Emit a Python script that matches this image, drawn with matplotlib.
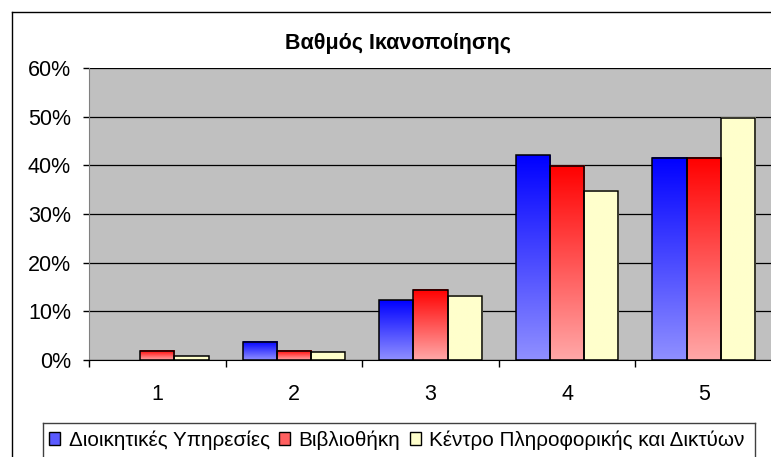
import matplotlib.pyplot as plt
import numpy as np
from matplotlib.colors import LinearSegmentedColormap
from matplotlib.lines import Line2D
from matplotlib.patches import Patch

plt.rcParams['font.family'] = ['Liberation Sans', 'DejaVu Sans']

# data
categories = ["1", "2", "3", "4", "5"]
series_names = ["Διοικητικές Υπηρεσίες", "Βιβλιοθήκη", "Κέντρο Πληροφορικής και Δικτύων"]
admin = [0.0, 3.8, 12.3, 42.1, 41.6]
library = [1.9, 1.9, 14.4, 39.9, 41.6]
computing = [0.8, 1.6, 13.2, 34.8, 49.8]
y_ticks = [0, 10, 20, 30, 40, 50, 60]
y_tick_labels = ["0%", "10%", "20%", "30%", "40%", "50%", "60%"]

# gradient colours (bottom -> top) per series
grads = [("#9090FF", "#0000FF"), ("#FFA8A8", "#FF0000"), ("#FFFFCC", "#FFFFCC")]
legend_colors = ["#5A5AFF", "#FF6060", "#FFFFCC"]

W, H = 771, 457
fig = plt.figure(figsize=(W / 100, H / 100), dpi=100)
ax = fig.add_axes([89 / W, 1 - 360 / H, 683 / W, 292 / H])
ax.set_facecolor("#C0C0C0")

x = np.arange(len(categories))
bw = 0.25
grad = np.linspace(0, 1, 256).reshape(-1, 1)
for k, vals in enumerate([admin, library, computing]):
    bars = ax.bar(x + (k - 1) * bw, vals, bw, facecolor="none",
                  edgecolor="black", linewidth=1.1, zorder=3)
    cmap = LinearSegmentedColormap.from_list("g%d" % k, grads[k])
    for b in bars:
        h = b.get_height()
        if h <= 0:
            b.set_visible(False)
            continue
        x0 = b.get_x()
        ax.imshow(grad, extent=(x0, x0 + bw, 0, h), origin="lower",
                  cmap=cmap, aspect="auto", zorder=2, interpolation="bilinear")

ax.set_xlim(-0.5, len(categories) - 0.5)
ax.set_ylim(0, 60)
ax.set_yticks(y_ticks)
ax.set_yticklabels(y_tick_labels, fontsize=15.5)
ax.set_xticks(x)
ax.set_xticklabels(categories, fontsize=15.5)
ax.set_xticks(np.arange(len(categories) + 1) - 0.5, minor=True)
ax.tick_params(axis="x", which="major", length=0, pad=17)
ax.tick_params(axis="x", which="minor", length=5, width=1, color="black")
ax.tick_params(axis="y", length=4.5, width=1, color="black", pad=8.5)
ax.yaxis.grid(True, color="black", linewidth=0.9, zorder=1)
ax.set_axisbelow(True)
for s in ["top", "right"]:
    ax.spines[s].set_visible(False)
ax.spines["left"].set_color("#808080")
ax.spines["bottom"].set_color("black")
ax.spines["bottom"].set_zorder(4)

fig.text(398 / W, 1 - 44 / H, "Βαθμός Ικανοποίησης", ha="center", va="center",
         fontsize=15.5, fontweight="bold")

# chart frame (extends past the image edges)
fig.add_artist(Line2D([11.5 / W, 11.5 / W], [0, 1 - 12 / H], color="black", linewidth=1))
fig.add_artist(Line2D([11.5 / W, 1], [1 - 12 / H, 1 - 12 / H], color="black", linewidth=1))

# legend box
lx0, lx1, ly = 42.5 / W, 754.5 / W, 1 - 422.5 / H
fig.add_artist(Line2D([lx0, lx1], [ly, ly], color="#404040", linewidth=1))
fig.add_artist(Line2D([lx0, lx0], [0, ly], color="#404040", linewidth=1))
fig.add_artist(Line2D([lx1, lx1], [0, ly], color="#404040", linewidth=1))
handles = [Patch(facecolor=c, edgecolor="black", linewidth=1) for c in legend_colors]
fig.legend(handles, series_names, loc="center left", bbox_to_anchor=(49 / W, 1 - 440 / H),
           ncol=3, frameon=False, fontsize=14.9, handlelength=0.55, handleheight=0.55,
           handletextpad=0.4, columnspacing=0.45, borderpad=0, borderaxespad=0)

fig.savefig("out.png", dpi=100)
